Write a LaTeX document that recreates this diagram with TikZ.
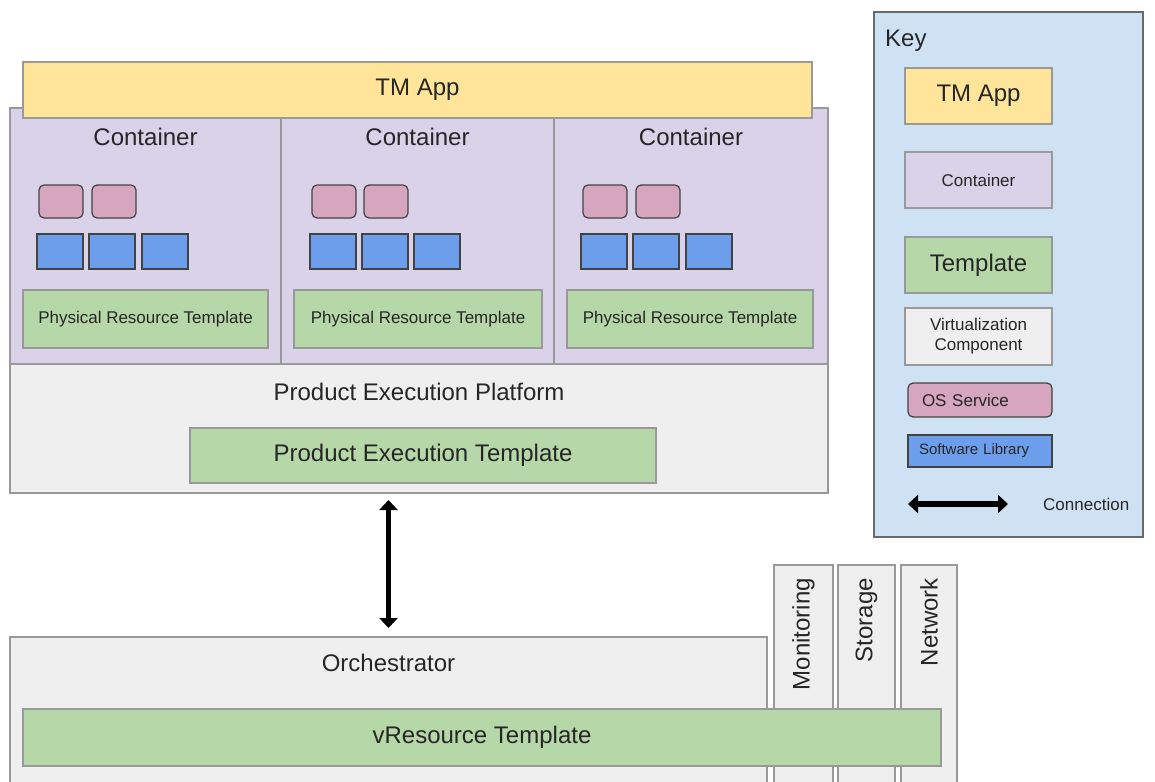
\documentclass[tikz,border=0pt]{standalone}
\usepackage{fontspec}
\setmainfont{Liberation Sans}
\usetikzlibrary{arrows.meta}
\definecolor{cyellow}{HTML}{FFE599}
\definecolor{cpurple}{HTML}{D9D2E9}
\definecolor{cgreen}{HTML}{B6D7A8}
\definecolor{cgray}{HTML}{EFEFEF}
\definecolor{cpink}{HTML}{D5A6BD}
\definecolor{cblue}{HTML}{6D9EEB}
\definecolor{ckey}{HTML}{CFE2F3}
\definecolor{cborder}{HTML}{999999}
\definecolor{cdark}{HTML}{434343}
\definecolor{ctext}{HTML}{262626}
\newcommand\fbig{\fontsize{24}{28}\selectfont}
\newcommand\fmid{\fontsize{17}{20}\selectfont}
\newcommand\fsml{\fontsize{15}{18}\selectfont}
\begin{document}
\begin{tikzpicture}[x=1pt,y=-1pt,
  bx/.style={draw=cborder, line width=1.3pt, inner sep=0pt, outer sep=0pt, anchor=north west, text=ctext, align=center},
  txt/.style={inner sep=0pt, text=ctext},
  ossvc/.style={draw=cdark, fill=cpink, line width=1.2pt, rounded corners=5pt, anchor=north west, inner sep=0pt, outer sep=0pt, minimum width=44pt, minimum height=33pt},
  swlib/.style={draw=cdark, fill=cblue, line width=1.2pt, anchor=north west, inner sep=0pt, outer sep=0pt, minimum width=46pt, minimum height=35pt},
  conn/.style={line width=5pt, {Triangle[length=10pt,width=18pt]}-{Triangle[length=10pt,width=18pt]}}
]
\useasboundingbox (0,0) rectangle (1155,781);
\clip (0,0) rectangle (1155,781);

% containers
\node[bx, fill=cpurple, minimum width=271pt, minimum height=256pt] (c1) at (10,108) {};
\node[bx, fill=cpurple, minimum width=273pt, minimum height=256pt] (c2) at (281,108) {};
\node[bx, fill=cpurple, minimum width=274pt, minimum height=256pt] (c3) at (554,108) {};
\node[bx, fill=cyellow, minimum width=789pt, minimum height=56pt, font=\fbig] (tm) at (23,62) {TM App};

\node[txt, font=\fbig] (c1t) at ([yshift=-29pt]c1.north) {Container};
\node[txt, font=\fbig] (c2t) at ([yshift=-29pt]c2.north) {Container};
\node[txt, font=\fbig] (c3t) at ([yshift=-29pt]c3.north) {Container};

% OS services
\node[ossvc] (o11) at (39,185) {};
\node[ossvc] (o12) at (92,185) {};
\node[ossvc] (o21) at (312,185) {};
\node[ossvc] (o22) at (364,185) {};
\node[ossvc] (o31) at (583,185) {};
\node[ossvc] (o32) at (636,185) {};
% software libraries
\node[swlib] (s11) at (37,234) {};
\node[swlib] (s12) at (89,234) {};
\node[swlib] (s13) at (142,234) {};
\node[swlib] (s21) at (310,234) {};
\node[swlib] (s22) at (362,234) {};
\node[swlib] (s23) at (414,234) {};
\node[swlib] (s31) at (581,234) {};
\node[swlib] (s32) at (633,234) {};
\node[swlib] (s33) at (686,234) {};
% physical resource templates
\node[bx, fill=cgreen, minimum width=245pt, minimum height=58pt, font=\fmid] (p1) at (23,290) {Physical Resource Template};
\node[bx, fill=cgreen, minimum width=248pt, minimum height=58pt, font=\fmid] (p2) at (294,290) {Physical Resource Template};
\node[bx, fill=cgreen, minimum width=246pt, minimum height=58pt, font=\fmid] (p3) at (567,290) {Physical Resource Template};

% product execution platform
\node[bx, fill=cgray, minimum width=818pt, minimum height=129pt] (pep) at (10,364) {};
\node[txt, font=\fbig] (pept) at ([yshift=-28pt]pep.north) {Product Execution Platform};
\node[bx, fill=cgreen, minimum width=466pt, minimum height=55pt, font=\fbig] (pet) at (190,428) {Product Execution Template};

% orchestrator
\node[bx, fill=cgray, minimum width=757pt, minimum height=200pt] (orch) at (10,637) {};
\node[txt, font=\fbig] (orcht) at ([yshift=-26pt]orch.north) {Orchestrator};
\node[bx, fill=cgray, minimum width=59pt, minimum height=250pt] (mon) at (774,565) {};
\node[bx, fill=cgray, minimum width=57pt, minimum height=250pt] (sto) at (838,565) {};
\node[bx, fill=cgray, minimum width=56pt, minimum height=250pt] (net) at (901,565) {};
\node[txt, font=\fbig, rotate=90, anchor=east] (mont) at ([yshift=-13pt]mon.north) {Monitoring};
\node[txt, font=\fbig, rotate=90, anchor=east] (stot) at ([yshift=-13pt]sto.north) {Storage};
\node[txt, font=\fbig, rotate=90, anchor=east] (nett) at ([yshift=-13pt]net.north) {Network};
\node[bx, fill=cgreen, minimum width=918pt, minimum height=57pt, font=\fbig] (vres) at (23,709) {vResource Template};

\draw[conn, shorten <=7pt, shorten >=9pt] (orch.north |- pep.south) -- (orch.north);

% key
\node[bx, draw=cdark!80, fill=ckey, minimum width=269pt, minimum height=525pt] (key) at (874,12) {};
\node[txt, font=\fbig, anchor=west] (keyt) at (885,41) {Key};
\node[bx, fill=cyellow, minimum width=147pt, minimum height=56pt, font=\fbig] (ktm) at (905,68) {TM App};
\node[bx, fill=cpurple, minimum width=147pt, minimum height=56pt, font=\fmid] (kcon) at (905,152) {Container};
\node[bx, fill=cgreen, minimum width=147pt, minimum height=56pt, font=\fbig] (ktpl) at (905,237) {Template};
\node[bx, fill=cgray, minimum width=147pt, minimum height=57pt, font=\fmid] (kvirt) at (905,308) {Virtualization\\Component};
\node[ossvc, minimum width=144pt, minimum height=34pt, text width=116pt, inner xsep=14pt, align=left, font=\fmid, text=ctext] (kos) at (908,383) {OS Service};
\node[swlib, minimum width=144pt, minimum height=32pt, text width=122pt, inner xsep=11pt, align=left, font=\fsml, text=ctext] (ksw) at (908,435) {Software Library};
\coordinate (ka) at (908,504);
\coordinate (kb) at (1008,504);
\draw[conn, line width=6pt] (ka) -- (kb);
\node[txt, font=\fmid, anchor=west] (kconn) at (1043,504) {Connection};
\end{tikzpicture}
\end{document}
